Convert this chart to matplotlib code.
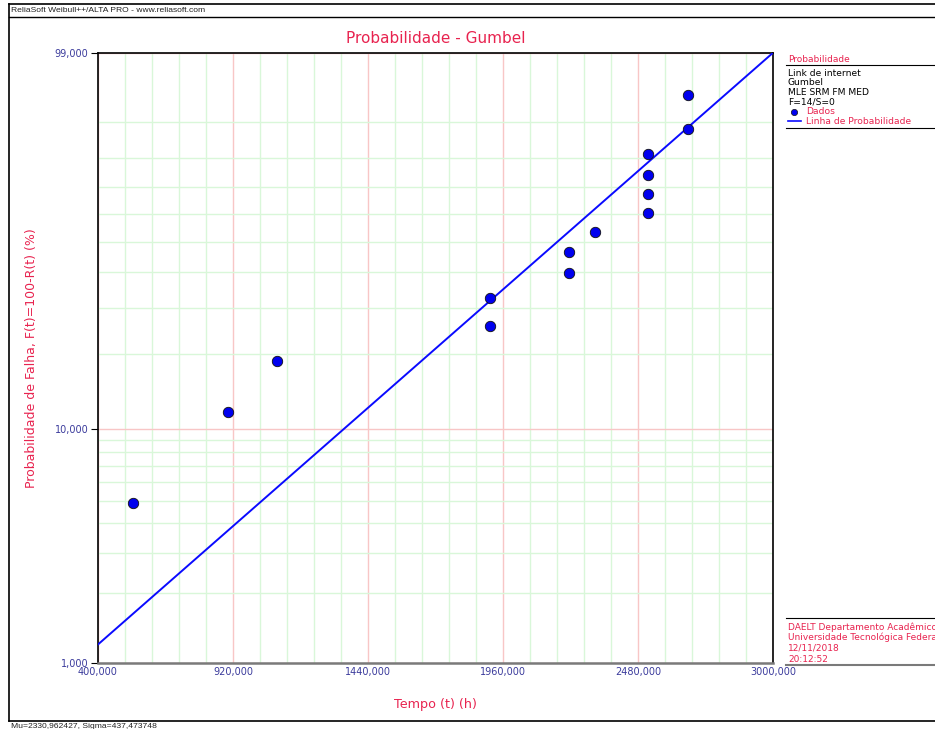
import numpy as np
import matplotlib
matplotlib.use("Agg")
import matplotlib.pyplot as plt
from matplotlib.lines import Line2D

# dados
tempos = [535, 901, 1090, 1910, 1910, 2214, 2214, 2314, 2519, 2519, 2519, 2519, 2673, 2673]
prob_falha = [4.9, 11.8, 18.8, 25.7, 32.6, 39.6, 46.5, 53.5, 60.4, 67.4, 74.3, 81.2, 88.2, 95.1]
mu = 2330.962427
sigma = 437.473748

x_ticks = [400, 920, 1440, 1960, 2480, 3000]
x_labels = ["400,000", "920,000", "1440,000", "1960,000", "2480,000", "3000,000"]
y_ticks = [1, 10, 99]
y_labels = ["1,000", "10,000", "99,000"]
y_minor = [2, 3, 4, 5, 6, 7, 8, 9, 20, 30, 40, 50, 60, 70, 80, 90]

info = ["Link de internet", "Gumbel", "MLE SRM FM MED", "F=14/S=0"]
rodape = ["DAELT Departamento Acadêmico de Eletrotécnica",
          "Universidade Tecnológica Federal do Paraná",
          "12/11/2018", "20:12:52"]

RED = "#e8234f"
NAVY = "#3b3b9c"
W, H = 935, 729


def fx(px):
    return px / W


def fy(py):
    return 1 - py / H


def fwd(p):
    p = np.clip(np.asarray(p, dtype=float), 1e-6, 100 - 1e-6)
    return np.log(-np.log(1 - p / 100))


def inv(z):
    return 100 * (1 - np.exp(-np.exp(z)))


fig = plt.figure(figsize=(W / 100, H / 100), dpi=100)
ax = fig.add_axes([fx(98), fy(663), fx(773) - fx(98), fy(53) - fy(663)])
ax.set_yscale("function", functions=(fwd, inv))
ax.set_xlim(400, 3000)
ax.set_ylim(1, 99)

ax.set_xticks(x_ticks)
ax.set_xticklabels(x_labels)
ax.set_xticks(np.arange(400, 3001, 104), minor=True)
ax.set_yticks(y_ticks)
ax.set_yticklabels(y_labels)
ax.set_yticks(y_minor, minor=True)
ax.set_yticklabels([], minor=True)

ax.tick_params(axis="both", which="major", labelsize=7, labelcolor=NAVY)
ax.tick_params(axis="x", which="major", length=0, pad=3)
ax.tick_params(axis="y", which="major", length=5, pad=2)
ax.tick_params(which="minor", length=0)

ax.grid(True, which="minor", color="#d9f7d9", lw=1, zorder=0)
ax.grid(True, which="major", color="#f8c6c6", lw=1, zorder=0)
for s in ["left", "top", "right"]:
    ax.spines[s].set_color("black")
    ax.spines[s].set_linewidth(1.2)
ax.spines["bottom"].set_color("#7a7a7a")
ax.spines["bottom"].set_linewidth(1.8)

t = np.linspace(400, 3000, 300)
ax.plot(t, inv((t - mu) / sigma), color="#0a0aff", lw=1.4, zorder=3)
ax.plot(tempos, prob_falha, "o", color="#0000ee", mec="#101010", mew=0.6, ms=7.5, zorder=4)

ax.set_title("Probabilidade - Gumbel", color=RED, fontsize=11, pad=7)
ax.set_xlabel("Tempo (t) (h)", color=RED, fontsize=9.2, labelpad=15)
ax.set_ylabel("Probabilidade de Falha, F(t)=100-R(t) (%)", color=RED, fontsize=9, labelpad=12)

# moldura externa e cabeçalho
fig.add_artist(Line2D([fx(9), 1], [fy(4), fy(4)], color="black", lw=1.2))
fig.add_artist(Line2D([fx(9), fx(9)], [fy(4), fy(721)], color="black", lw=1.2))
fig.add_artist(Line2D([fx(9), 1], [fy(721), fy(721)], color="black", lw=1.2))
fig.add_artist(Line2D([fx(9), 1], [fy(17), fy(17)], color="black", lw=1))
fig.text(fx(11), fy(11), "ReliaSoft Weibull++/ALTA PRO - www.reliasoft.com",
         fontsize=6.1, family="Liberation Sans", va="center", color="#222222")
fig.text(fx(11), fy(727), "Mu=2330,962427, Sigma=437,473748",
         fontsize=6.1, family="Liberation Sans", va="center", color="#222222")

# legenda
fig.text(fx(788), fy(59), "Probabilidade", color=RED, fontsize=6.5, va="center")
fig.add_artist(Line2D([fx(786), 1], [fy(65), fy(65)], color="black", lw=0.8))
for i, s in enumerate(info):
    fig.text(fx(788), fy(73 + 9.6 * i), s, color="black", fontsize=6.6, va="center")
fig.add_artist(Line2D([fx(794)], [fy(112)], marker="o", color="#0000ee", mec="#101010",
                      mew=0.5, ms=4.5, lw=0))
fig.text(fx(806), fy(112), "Dados", color=RED, fontsize=6.6, va="center")
fig.add_artist(Line2D([fx(788), fx(801)], [fy(121), fy(121)], color="#0a0aff", lw=1.2))
fig.text(fx(806), fy(121), "Linha de Probabilidade", color=RED, fontsize=6.6, va="center")
fig.add_artist(Line2D([fx(786), 1], [fy(128), fy(128)], color="black", lw=0.8))

# rodapé
fig.add_artist(Line2D([fx(786), 1], [fy(618), fy(618)], color="black", lw=0.8))
for i, s in enumerate(rodape):
    fig.text(fx(788), fy(627 + 10.7 * i), s, color=RED, fontsize=6.5, va="center")
fig.add_artist(Line2D([fx(786), 1], [fy(665), fy(665)], color="#7a7a7a", lw=1.5))

fig.savefig("out.png", dpi=100)
